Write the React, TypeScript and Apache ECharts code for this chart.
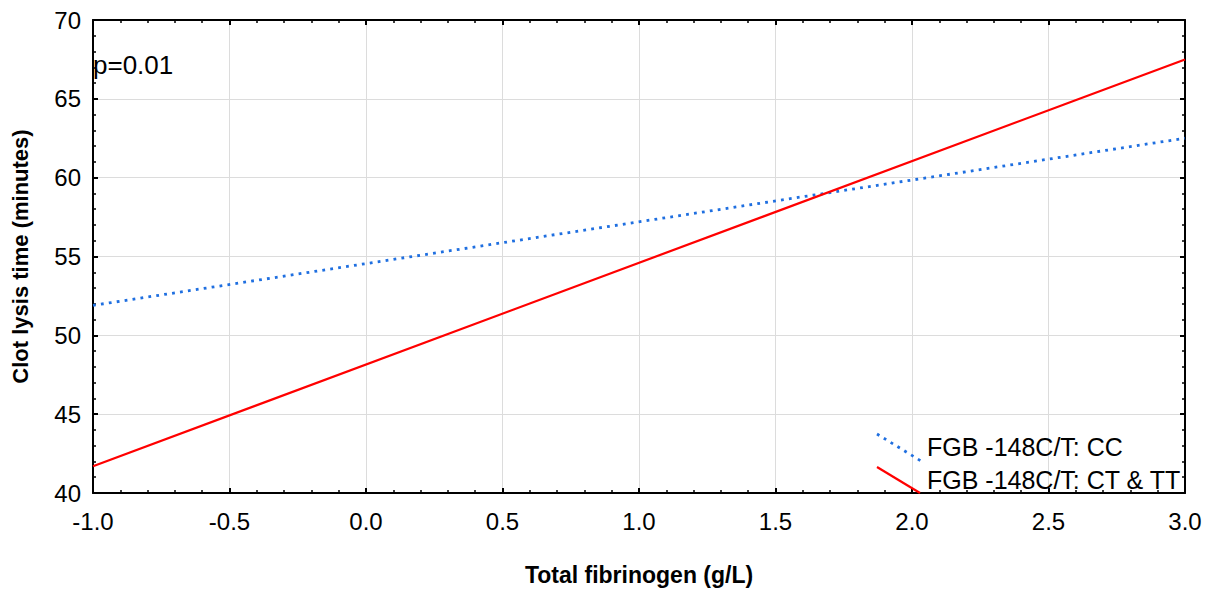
import React, { useEffect, useRef } from "react";
import * as echarts from "echarts";

const xRange = [-1.0, 3.0];
const ccLine = [
  [-1.0, 51.9],
  [3.0, 62.5],
];
const ctTtLine = [
  [-1.0, 41.7],
  [3.0, 67.5],
];
const seriesNames = ["FGB -148C/T: CC", "FGB -148C/T: CT & TT"];
const pLabel = "p=0.01";

const FONT = "'Liberation Sans', Arial, sans-serif";

export default function App() {
  const ref = useRef<HTMLDivElement>(null);
  useEffect(() => {
    if (!ref.current) return;
    const chart = echarts.init(ref.current, undefined, { renderer: "svg" });
    const axisCommon = {
      axisLine: { show: true, onZero: false, lineStyle: { color: "#000", width: 2 } },
      axisTick: { show: true, inside: true, length: 5, lineStyle: { color: "#000", width: 2 } },
      minorTick: { show: true, splitNumber: 5, length: 3, lineStyle: { color: "#000", width: 1.5 } },
    };
    chart.setOption({
      animation: false,
      backgroundColor: "#fff",
      grid: {
        left: 93,
        right: 23,
        top: 20,
        bottom: 97,
        containLabel: false,
        outerBoundsMode: "none",
      },
      xAxis: [
        {
          type: "value",
          min: xRange[0],
          max: xRange[1],
          interval: 0.5,
          name: "Total fibrinogen (g/L)",
          nameLocation: "middle",
          nameGap: 70,
          nameTextStyle: { fontFamily: FONT, fontSize: 23, fontWeight: "bold", color: "#000" },
          axisLabel: {
            fontFamily: FONT,
            fontSize: 24,
            color: "#000",
            margin: 16,
            formatter: (v: number) => v.toFixed(1),
          },
          splitLine: { show: true, lineStyle: { color: "#dcdcdc", width: 1 } },
          ...axisCommon,
        },
        {
          type: "value",
          position: "top",
          min: xRange[0],
          max: xRange[1],
          interval: 0.5,
          axisLabel: { show: false },
          splitLine: { show: false },
          ...axisCommon,
        },
      ],
      yAxis: [
        {
          type: "value",
          min: 40,
          max: 70,
          interval: 5,
          name: "Clot lysis time (minutes)",
          nameLocation: "middle",
          nameGap: 62,
          nameTextStyle: { fontFamily: FONT, fontSize: 22, fontWeight: "bold", color: "#000" },
          axisLabel: { fontFamily: FONT, fontSize: 24, color: "#000", margin: 12 },
          splitLine: { show: true, lineStyle: { color: "#dcdcdc", width: 1 } },
          ...axisCommon,
        },
        {
          type: "value",
          position: "right",
          min: 40,
          max: 70,
          interval: 5,
          axisLabel: { show: false },
          splitLine: { show: false },
          ...axisCommon,
        },
      ],
      series: [
        {
          name: seriesNames[0],
          type: "line",
          data: ccLine,
          showSymbol: false,
          symbol: "none",
          lineStyle: { color: "#1f6fe0", width: 2.8, type: [2.8, 5.2] },
          z: 3,
        },
        {
          name: seriesNames[1],
          type: "line",
          data: ctTtLine,
          showSymbol: false,
          symbol: "none",
          lineStyle: { color: "#ff0000", width: 2.2 },
          z: 4,
        },
      ],
      graphic: [
        {
          type: "text",
          left: 93,
          top: 52,
          style: { text: pLabel, fontFamily: FONT, fontSize: 26, fill: "#000" },
          z: 10,
        },
        {
          type: "line",
          shape: { x1: 877, y1: 434, x2: 921, y2: 461 },
          style: { stroke: "#1f6fe0", lineWidth: 2.8, lineDash: [2.8, 5.2] },
          z: 10,
        },
        {
          type: "line",
          shape: { x1: 877, y1: 467, x2: 920, y2: 493 },
          style: { stroke: "#ff0000", lineWidth: 2.2 },
          z: 10,
        },
        {
          type: "text",
          x: 927,
          y: 447,
          style: {
            text: seriesNames[0],
            fontFamily: FONT,
            fontSize: 25,
            fill: "#000",
            verticalAlign: "middle",
          },
          z: 10,
        },
        {
          type: "text",
          x: 927,
          y: 480,
          style: {
            text: seriesNames[1],
            fontFamily: FONT,
            fontSize: 25,
            fill: "#000",
            verticalAlign: "middle",
          },
          z: 10,
        },
      ],
    });
    return () => chart.dispose();
  }, []);
  return (
    <div
      ref={ref}
      style={{ position: "absolute", left: 0, top: 0, width: 1208, height: 590, background: "#fff" }}
    />
  );
}
